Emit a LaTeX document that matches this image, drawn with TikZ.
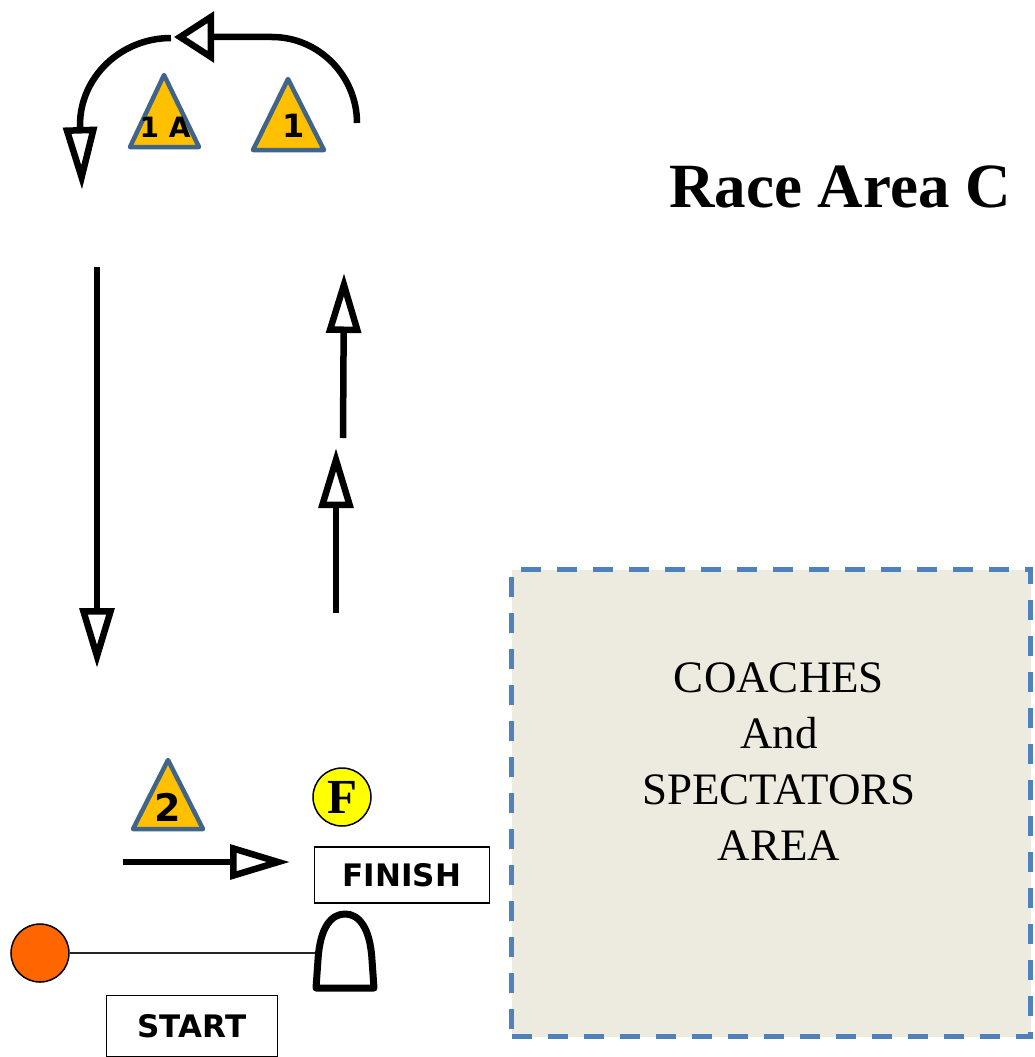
\documentclass[tikz,border=0pt]{standalone}
\usepackage{fontspec}
\setmainfont{Liberation Serif}
\newfontfamily\markfont{DejaVu Sans}
\usetikzlibrary{positioning}
\usetikzlibrary{shapes,arrows,calc,arrows.meta}

\definecolor{buoyorange}{HTML}{FFC000}
\definecolor{buoyedge}{HTML}{41648A}
\definecolor{areafill}{HTML}{EDEBE0}
\definecolor{areaedge}{HTML}{4F81BD}
\definecolor{startorange}{HTML}{FF6600}
\definecolor{flagyellow}{HTML}{FFFF00}

\tikzset{
  course/.style={line width=6.5pt},
  longhead/.style={-{Triangle[open,length=60pt,width=34pt]}},
  buoy/.style={fill=buoyorange,draw=buoyedge,line width=4.5pt,line join=round},
  buoytext/.style={font=\markfont\bfseries\fontsize{#1}{#1}\selectfont},
  boxlabel/.style={draw,line width=1.3pt,inner sep=0pt,font=\markfont\bfseries\fontsize{31}{31}\selectfont}
}

\begin{document}
\begin{tikzpicture}[x=1pt,y=-1pt]
  \useasboundingbox (0,0) rectangle (1034,1057);

  % Title
  \node[font=\bfseries\fontsize{63}{70}\selectfont] (title) at (840,187) {Race Area C};

  % Turn round the top buoys
  \draw[course,-{Triangle[open,length=40pt,width=50pt]}] (357,123) .. controls (357,76) and (319,37) .. (272,37) -- (174,37);
  \draw[course,-{Triangle[open,length=63pt,width=33pt]}] (171,38) .. controls (121,38) and (80,77) .. (80,125) -- (82,190);

  % Top buoys
  \draw[buoy] (164,75) -- (130,147) -- (199,147) -- cycle;
  \node[buoytext=28] (buoyoneA) at (165,127) {1 A};
  \draw[buoy] (288,79) -- (253,150) -- (324,150) -- cycle;
  \node[buoytext=32] (buoyone) at (294,126) {1};

  % Long legs
  \draw[course,longhead] (97,267) -- (97,668);
  \draw[course,longhead] (336,613) -- (336,448);
  \draw[course,longhead] (343,438) -- (344,273);

  % Bottom buoy and finish
  \draw[buoy] (168,760) -- (133,829) -- (203,829) -- cycle;
  \node[buoytext=38] (buoytwo) at (168,807) {2};
  \draw[course,longhead] (123,862) -- (290,862);
  \node[circle,draw,fill=flagyellow,line width=1.5pt,minimum size=58pt,inner sep=0pt,
        font=\bfseries\fontsize{49}{49}\selectfont] (flag) at (342,797) {F};
  \node[boxlabel,minimum width=175pt,minimum height=56pt] (finish) at (402,875) {FINISH};

  % Start line
  \node[circle,draw,fill=startorange,line width=1.5pt,minimum size=58pt] (pin) at (40,953) {};
  \coordinate (archfoot) at (318,953);
  \draw[line width=2pt,black!85] (pin.east) -- (archfoot);
  \draw[line width=7pt,line join=round] (316,988) -- (318,960) .. controls (320,926) and (332,914) .. (345,914)
        .. controls (358,914) and (370,926) .. (372,960) -- (374,988) -- cycle;
  \node[boxlabel,minimum width=171pt,minimum height=61pt] (start) at (192,1026) {START};

  % Coaches area
  \node[draw=areaedge,fill=areafill,line width=5pt,dash pattern=on 20pt off 16pt,
        minimum width=519pt,minimum height=467pt] (coaches) at (771,803) {};
  \node[align=center,font=\fontsize{45}{56}\selectfont] (coachtext) at (779,762) {COACHES\\And\\SPECTATORS\\AREA};
\end{tikzpicture}
\end{document}
